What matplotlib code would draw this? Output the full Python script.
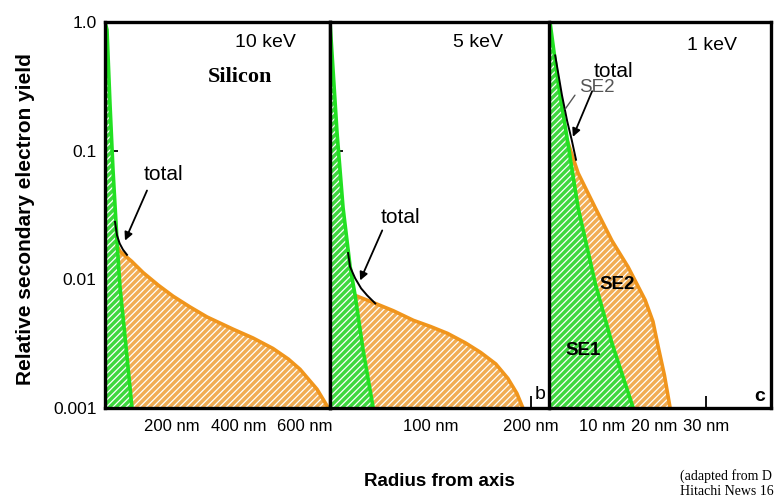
import numpy as np
import matplotlib
matplotlib.use('Agg')
import matplotlib.pyplot as plt
from matplotlib.ticker import NullLocator

plt.rcParams['font.family'] = ['Liberation Sans', 'DejaVu Sans']
plt.rcParams['hatch.linewidth'] = 0.9

# --- data (radius in nm, relative yield) ---
# 10 keV
se1_a_x = [0, 6, 15, 24, 37, 45, 60, 81]
se1_a_y = [1.0, 0.87, 0.23, 0.071, 0.018, 0.0087, 0.0036, 0.001]
se2_a_x = [37, 45, 80, 114, 160, 204, 255, 306, 384, 444, 504, 550, 585, 636, 670]
se2_a_y = [0.018, 0.0165, 0.0138, 0.0113, 0.0090, 0.0074, 0.0061, 0.0051, 0.0041, 0.0035,
           0.0029, 0.0024, 0.0020, 0.0014, 0.001]
tot_a_x = [30, 36, 44, 54, 66]
tot_a_y = [0.028, 0.022, 0.019, 0.017, 0.0155]

# 5 keV
se1_b_x = [0, 7, 13, 20, 25, 33, 43]
se1_b_y = [1.0, 0.138, 0.036, 0.0126, 0.0075, 0.0028, 0.001]
se2_b_x = [25, 43, 63, 83, 100, 117, 135, 150, 165, 177, 186, 192]
se2_b_y = [0.0075, 0.0066, 0.0057, 0.0048, 0.0043, 0.0038, 0.0032, 0.0027, 0.0022, 0.0017,
           0.0013, 0.001]
tot_b_x = [18, 20, 25, 31, 37, 45]
tot_b_y = [0.016, 0.0125, 0.0102, 0.0085, 0.0075, 0.0065]

# 1 keV
se1_c_x = [0, 1.5, 3.4, 5.4, 8.7, 11.9, 16.0]
se1_c_y = [1.0, 0.35, 0.117, 0.036, 0.0093, 0.0032, 0.001]
se2_c_x = [3.4, 5.4, 8.7, 11.9, 15.0, 18.3, 19.8, 20.8, 22.0, 23.1]
se2_c_y = [0.117, 0.067, 0.036, 0.020, 0.0125, 0.0069, 0.0047, 0.0030, 0.0018, 0.001]
tot_c_x = [1.0, 2.3, 3.3, 4.2, 5.0]
tot_c_y = [0.55, 0.27, 0.17, 0.12, 0.085]

y_ticks = [1.0, 0.1, 0.01, 0.001]
y_labels = ['1.0', '0.1', '0.01', '0.001']

panels = [
    dict(se1=(se1_a_x, se1_a_y), se2=(se2_a_x, se2_a_y), tot=(tot_a_x, tot_a_y), junc=4,
         xlim=(0, 675), ticks=[200, 400, 600], labels=['200 nm', '400 nm', '600 nm'],
         px=(105, 330), energy='10 keV', epos=(0.711, 0.946), letter=None),
    dict(se1=(se1_b_x, se1_b_y), se2=(se2_b_x, se2_b_y), tot=(tot_b_x, tot_b_y), junc=4,
         xlim=(0, 218), ticks=[100, 200], labels=['100 nm', '200 nm'],
         px=(330, 549), energy='5 keV', epos=(0.676, 0.946), letter=('b', 0.959, 0.034, 'normal')),
    dict(se1=(se1_c_x, se1_c_y), se2=(se2_c_x, se2_c_y), tot=(tot_c_x, tot_c_y), junc=2,
         xlim=(0, 42.5), ticks=[10, 20, 30], labels=['10 nm', '20 nm', '30 nm'],
         px=(550, 771), energy='1 keV', epos=(0.734, 0.94), letter=('c', 0.95, 0.03, 'bold')),
]

W, H = 778, 498
top, bot = 22, 408
fig = plt.figure(figsize=(W / 100, H / 100), dpi=100)

green_fill = '#3fd83f'
green_line = '#22e022'
orange_fill = '#f1ad55'
orange_line = '#f0951c'

axes = []
for i, p in enumerate(panels):
    x0, x1 = p['px']
    ax = fig.add_axes([x0 / W, 1 - bot / H, (x1 - x0) / W, (bot - top) / H])
    axes.append(ax)
    ax.set_yscale('log')
    ax.set_ylim(0.001, 1.0)
    ax.set_xlim(*p['xlim'])
    ax.set_axisbelow(True)

    gx, gy = p['se1']
    ox, oy = p['se2']
    j = p['junc']
    # SE1 region (between axis and SE1 curve)
    ax.fill(list(gx) + [0], list(gy) + [gy[-1]], facecolor=green_fill,
            edgecolor='white', hatch='/////', linewidth=0, zorder=1)
    # SE2 region (between SE1 and SE2 curves)
    ax.fill(list(gx[j:]) + list(ox[::-1]), list(gy[j:]) + list(oy[::-1]),
            facecolor=orange_fill, edgecolor='white', hatch='/////', linewidth=0, zorder=1)
    ax.plot(ox, oy, color=orange_line, lw=2.6, zorder=2, solid_joinstyle='round')
    ax.plot(gx, gy, color=green_line, lw=2.6, zorder=2.1, solid_joinstyle='round')
    tx, ty = p['tot']
    ax.plot(tx, ty, color='black', lw=1.4, zorder=2.2)

    ax.set_yticks(y_ticks)
    ax.set_yticklabels(y_labels if i == 0 else [])
    ax.yaxis.set_minor_locator(NullLocator())
    ax.set_xticks(p['ticks'])
    ax.set_xticklabels(p['labels'])
    ax.tick_params(axis='both', direction='in', length=9, width=1.3, labelsize=12.5)
    ax.tick_params(axis='x', pad=8, labelsize=12)
    ax.tick_params(axis='y', pad=6, labelleft=(i == 0))
    for s in ax.spines.values():
        s.set_linewidth(2.4)
        s.set_zorder(4)

    ax.text(p['epos'][0], p['epos'][1], p['energy'], transform=ax.transAxes,
            ha='center', va='center', fontsize=14)
    if p['letter']:
        t, lx, ly, wt = p['letter']
        ax.text(lx, ly, t, transform=ax.transAxes, ha='center', va='center',
                fontsize=14, fontweight=wt)

ax_a, ax_b, ax_c = axes
ax_c.spines['left'].set_linewidth(1.0)

ax_a.text(0.6, 0.858, 'Silicon', transform=ax_a.transAxes, ha='center', va='center',
          fontsize=16, fontweight='bold', family='Liberation Serif')

arrow = dict(arrowstyle='-|>', color='black', lw=1.3, mutation_scale=12, shrinkA=0, shrinkB=0)
ax_a.text(174, 0.065, 'total', ha='center', va='center', fontsize=15)
ax_a.annotate('', xy=(60, 0.020), xytext=(126, 0.049), arrowprops=arrow)
ax_b.text(70, 0.0305, 'total', ha='center', va='center', fontsize=15)
ax_b.annotate('', xy=(30, 0.0098), xytext=(52, 0.024), arrowprops=arrow)
ax_c.text(12.2, 0.41, 'total', ha='center', va='center', fontsize=15, zorder=5)
ax_c.annotate('', xy=(4.4, 0.128), xytext=(8.1, 0.29), arrowprops=arrow)
ax_c.text(9.0, 0.31, 'SE2', ha='center', va='center', fontsize=13.5, color='#555555')
ax_c.annotate('', xy=(2.9, 0.21), xytext=(4.8, 0.27),
              arrowprops=dict(arrowstyle='-', color='#555555', lw=1.0, shrinkA=0, shrinkB=0))
ax_c.text(12.9, 0.0091, 'SE2', ha='center', va='center', fontsize=13.5, fontweight='bold', zorder=5)
ax_c.text(6.3, 0.0028, 'SE1', ha='center', va='center', fontsize=13.5, fontweight='bold', zorder=5)

fig.text(26 / W, 1 - 219 / H, 'Relative secondary electron yield', rotation=90,
         ha='center', va='center', fontsize=15, fontweight='bold')
fig.text(439 / W, 1 - 481 / H, 'Radius from axis', ha='center', va='center',
         fontsize=13.5, fontweight='bold')
fig.text(680 / W, 1 - 476 / H, '(adapted from D', ha='left', va='center',
         fontsize=10, family='Liberation Serif')
fig.text(680 / W, 1 - 491 / H, 'Hitachi News 16', ha='left', va='center',
         fontsize=10, family='Liberation Serif')

fig.savefig('out.png', dpi=100)
